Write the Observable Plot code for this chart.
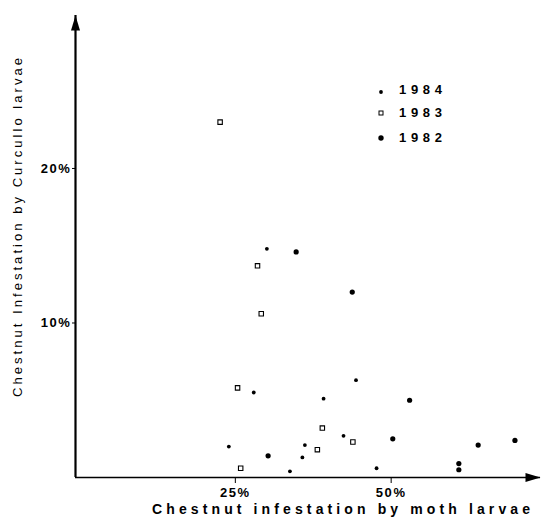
<!DOCTYPE html>
<html>
<head>
<meta charset="utf-8">
<script src="https://cdn.jsdelivr.net/npm/d3@7"></script>
<script src="https://cdn.jsdelivr.net/npm/@observablehq/plot@0.6"></script>
<style>
  html, body { margin: 0; padding: 0; background: #fff; }
  #chart { width: 541px; height: 519px; }
  g[aria-label="x-axis tick label"] text, g[aria-label="y-axis tick label"] text { letter-spacing: 1.6px; font-weight: bold; font-size: 13px; }
</style>
</head>
<body>
<div id="chart"></div>
<script>
// ---- data (percent) ----
const years = ["1984", "1983", "1982"];
// 1984 (small dots)
const moth1984 = [30.7, 28.6, 24.6, 45.0, 39.8, 36.8, 36.4, 34.4, 48.3, 43.0];
const curc1984 = [14.8, 5.5, 2.0, 6.3, 5.1, 2.1, 1.3, 0.4, 0.6, 2.7];
// 1983 (open squares)
const moth1983 = [23.2, 29.2, 29.8, 26.0, 26.5, 39.6, 38.8, 44.5];
const curc1983 = [23.0, 13.7, 10.6, 5.8, 0.6, 3.2, 1.8, 2.3];
// 1982 (larger dots)
const moth1982 = [35.4, 44.4, 30.9, 50.9, 53.6, 64.6, 70.5, 61.5, 61.5];
const curc1982 = [14.6, 12.0, 1.4, 2.5, 5.0, 2.1, 2.4, 0.9, 0.5];
const xTicks = [25, 50];
const yTicks = [10, 20];
const xLabel = "Chestnut infestation by moth larvae";
const yLabel = "Chestnut Infestation by Curcullo larvae";
const xMax = 74.6, yMax = 29.9;

const mk = (xs, ys, year) => xs.map((x, i) => ({moth: x, curc: ys[i], year}));
const d84 = mk(moth1984, curc1984, "1984");
const d83 = mk(moth1983, curc1983, "1983");
const d82 = mk(moth1982, curc1982, "1982");

const arrowUp = {draw(c) { c.moveTo(0, 0); c.lineTo(-4.5, 15); c.lineTo(4.5, 15); c.closePath(); }};
const arrowRight = {draw(c) { c.moveTo(0, 0); c.lineTo(-15, -4.5); c.lineTo(-15, 4.5); c.closePath(); }};

const chart = Plot.plot({
  width: 541,
  height: 519,
  marginLeft: 75,
  marginRight: 1,
  marginTop: 15,
  marginBottom: 42,
  x: {domain: [0, xMax]},
  y: {domain: [0, yMax]},
  style: {fontFamily: "'Liberation Sans', Arial, sans-serif", fontSize: "12px", color: "black", background: "white"},
  marks: [
    Plot.ruleY([0], {stroke: "black", strokeWidth: 1.6}),
    Plot.ruleX([0], {stroke: "black", strokeWidth: 2.2}),
    Plot.dot([{x: 0, y: yMax}], {x: "x", y: "y", symbol: arrowUp, fill: "black", stroke: null}),
    Plot.dot([{x: xMax, y: 0}], {x: "x", y: "y", symbol: arrowRight, fill: "black", stroke: null}),
    Plot.axisX({ticks: xTicks, tickFormat: d => d + "%", tickSize: 6, tickPadding: 4, label: null, dx: 4}),
    Plot.axisY({ticks: yTicks, tickFormat: d => d + "%", tickSize: 3, tickPadding: 1, label: null}),
    Plot.dot(d83, {x: "moth", y: "curc", symbol: "square", r: 2.5, stroke: "black", strokeWidth: 1.1, fill: "white"}),
    Plot.dot(d84, {x: "moth", y: "curc", r: 1.9, fill: "black", stroke: null}),
    Plot.dot(d82, {x: "moth", y: "curc", r: 2.6, fill: "black", stroke: null})
  ]
});
document.getElementById("chart").appendChild(chart);

const svg = d3.select(chart);
// axis titles
svg.append("text")
  .attr("x", 152).attr("y", 514)
  .attr("text-anchor", "start")
  .attr("textLength", 378).attr("lengthAdjust", "spacing")
  .attr("font-size", 14).attr("font-weight", "bold")
  .attr("fill", "black")
  .text(xLabel);
svg.append("text")
  .attr("transform", "translate(22,397) rotate(-90)")
  .attr("text-anchor", "start")
  .attr("textLength", 339).attr("lengthAdjust", "spacing")
  .attr("font-size", 13)
  .attr("fill", "black")
  .text(yLabel);

// legend
const legY = [94, 117, 142];
const legMarkY = [92, 113, 138];
const leg = svg.append("g");
years.forEach((yr, i) => {
  const my = legMarkY[i];
  if (yr === "1984") leg.append("circle").attr("cx", 381).attr("cy", my).attr("r", 1.9).attr("fill", "black");
  else if (yr === "1983") leg.append("rect").attr("x", 379).attr("y", my - 2).attr("width", 4).attr("height", 4).attr("fill", "white").attr("stroke", "black").attr("stroke-width", 1);
  else leg.append("circle").attr("cx", 381).attr("cy", my).attr("r", 2.7).attr("fill", "black");
  leg.append("text").attr("x", 399).attr("y", legY[i])
    .attr("text-anchor", "start")
    .attr("textLength", 43).attr("lengthAdjust", "spacing")
    .attr("font-size", 13).attr("font-weight", "bold").attr("fill", "black")
    .text(yr);
});
</script>
</body>
</html>
